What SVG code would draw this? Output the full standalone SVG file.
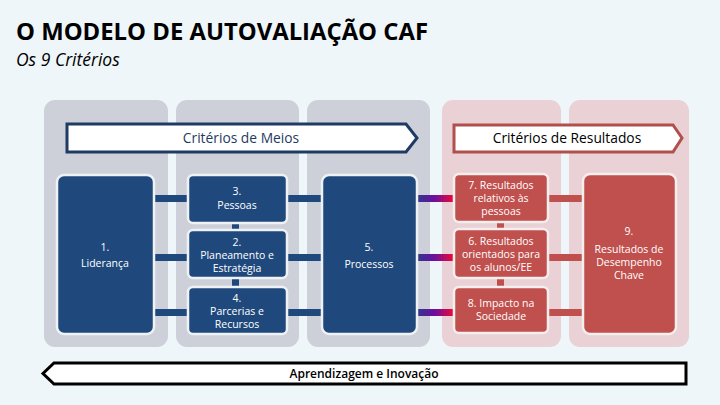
<svg xmlns="http://www.w3.org/2000/svg" width="720" height="405" viewBox="0 0 720 405">
<defs>
<linearGradient id="g" x1="0" x2="1" y1="0" y2="0">
<stop offset="0" stop-color="#2c3a8c"/>
<stop offset="0.45" stop-color="#6a10a0"/>
<stop offset="1" stop-color="#ff0828"/>
</linearGradient>
<style>
.col{fill:#cdd0d9}
.colr{fill:#e9d1d5}
.b{fill:#1f497d;stroke:#eef2f5;stroke-width:2.5}
.r{fill:#c0504d;stroke:#f4eeee;stroke-width:2.5}
.bb{fill:#1f497d}
.rb{fill:#c0504d}
.t{font-family:"Open Sans","DejaVu Sans",sans-serif;font-size:10.5px;fill:#ffffff;text-anchor:middle}
.h{font-family:"Open Sans","DejaVu Sans",sans-serif;font-size:13.8px;text-anchor:middle}
</style>
</defs>
<rect width="720" height="405" fill="#eff6f9"/>
<text x="16" y="40" font-family="'Open Sans','DejaVu Sans',sans-serif" font-weight="bold" font-size="24" fill="#000" textLength="412" lengthAdjust="spacingAndGlyphs">O MODELO DE AUTOVALIAÇÃO CAF</text>
<text x="16" y="66" font-family="'Open Sans','DejaVu Sans',sans-serif" font-style="italic" font-size="17.5" fill="#000">Os 9 Critérios</text>

<g id="columns">
<rect class="col" x="44" y="100" width="124" height="247" rx="11"/>
<rect class="col" x="176" y="100" width="123" height="247" rx="11"/>
<rect class="col" x="307" y="100" width="123" height="247" rx="11"/>
<rect class="colr" x="442" y="100" width="119" height="247" rx="11"/>
<rect class="colr" x="569" y="100" width="120" height="247" rx="11"/>
</g>

<g id="meios-arrow">
<path d="M67,124 H406 L417,138 L406,152 H67 Z" fill="#fff" stroke="#1f3b63" stroke-width="3"/>
<text class="h" x="241" y="143" fill="#1f3b63">Critérios de Meios</text>
</g>
<g id="resultados-arrow">
<path d="M454,125 H673 L682,138 L673,152 H454 Z" fill="#fff" stroke="#b0504d" stroke-width="3"/>
<text class="h" x="567" y="143" fill="#000">Critérios de Resultados</text>
</g>

<g id="connectors">
<rect class="bb" x="150" y="195" width="42" height="7"/>
<rect class="bb" x="150" y="254" width="42" height="7"/>
<rect class="bb" x="150" y="309" width="42" height="7"/>
<rect class="bb" x="283" y="195" width="42" height="7"/>
<rect class="bb" x="283" y="254" width="42" height="7"/>
<rect class="bb" x="283" y="309" width="42" height="7"/>
<rect class="bb" x="232" y="220" width="7" height="14"/>
<rect class="bb" x="232" y="275" width="7" height="15"/>
<rect fill="url(#g)" x="416" y="195" width="40" height="7"/>
<rect fill="url(#g)" x="416" y="254" width="40" height="7"/>
<rect fill="url(#g)" x="416" y="309" width="40" height="7"/>
<rect class="rb" x="545" y="195" width="42" height="7"/>
<rect class="rb" x="545" y="254" width="42" height="7"/>
<rect class="rb" x="545" y="309" width="42" height="7"/>
<rect class="rb" x="497" y="219" width="7" height="14"/>
<rect class="rb" x="497" y="275" width="7" height="15"/>
</g>

<g id="n1"><rect class="b" x="57" y="175" width="97" height="159" rx="7"/>
<text class="t" x="105" y="251">1.</text><text class="t" x="105" y="267">Liderança</text></g>
<g id="n3"><rect class="b" x="188" y="175" width="99" height="48" rx="5"/>
<text class="t" x="237" y="195">3.</text><text class="t" x="237" y="209">Pessoas</text></g>
<g id="n2"><rect class="b" x="188" y="230" width="99" height="48" rx="5"/>
<text class="t" x="237" y="246">2.</text><text class="t" x="237" y="259">Planeamento e</text><text class="t" x="237" y="272">Estratégia</text></g>
<g id="n4"><rect class="b" x="188" y="287" width="99" height="47" rx="5"/>
<text class="t" x="237" y="302">4.</text><text class="t" x="237" y="315">Parcerias e</text><text class="t" x="237" y="328">Recursos</text></g>
<g id="n5"><rect class="b" x="322" y="175" width="95" height="159" rx="7"/>
<text class="t" x="369" y="251">5.</text><text class="t" x="369" y="268">Processos</text></g>
<g id="n7"><rect class="r" x="454" y="174" width="94" height="48" rx="5"/>
<text class="t" x="501" y="189">7. Resultados</text><text class="t" x="501" y="202">relativos às</text><text class="t" x="501" y="215">pessoas</text></g>
<g id="n6"><rect class="r" x="454" y="229" width="94" height="49" rx="5"/>
<text class="t" x="501" y="245">6.  Resultados</text><text class="t" x="501" y="258">orientados para</text><text class="t" x="501" y="271">os alunos/EE</text></g>
<g id="n8"><rect class="r" x="454" y="287" width="94" height="46" rx="5"/>
<text class="t" x="501" y="307">8. Impacto na</text><text class="t" x="501" y="320">Sociedade</text></g>
<g id="n9"><rect class="r" x="583" y="174" width="93" height="160" rx="7"/>
<text class="t" x="629" y="235">9.</text><text class="t" x="629" y="253">Resultados de</text><text class="t" x="629" y="266">Desempenho</text><text class="t" x="629" y="279">Chave</text></g>

<g id="aprendizagem">
<path d="M54,363 H686 V384 H54 L43,373.5 Z" fill="#fff" stroke="#000" stroke-width="3"/>
<text x="364" y="378" font-family="'Open Sans','DejaVu Sans',sans-serif" font-size="12" font-weight="600" fill="#000" text-anchor="middle">Aprendizagem e Inovação</text>
</g>
</svg>
